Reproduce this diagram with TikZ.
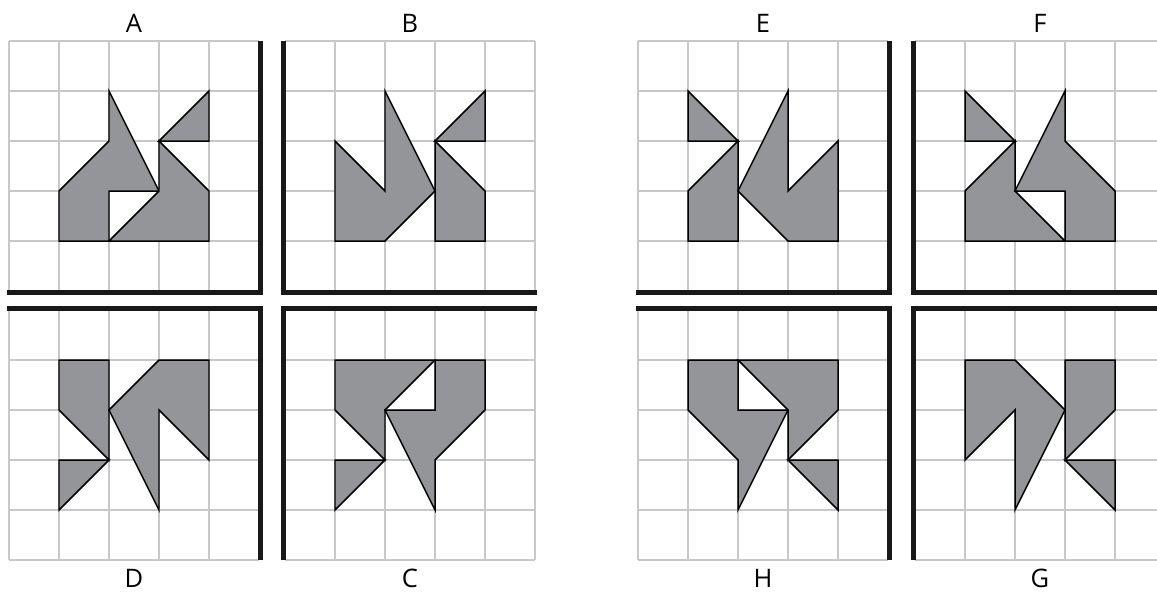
\documentclass[tikz,border=0pt]{standalone}
\usepackage{fontspec}
\setmainfont{Open Sans}
\definecolor{gridgray}{RGB}{200,200,202}
\definecolor{piecegray}{RGB}{147,149,152}

\begin{document}
\begin{tikzpicture}[x=1cm,y=1cm,font=\fontsize{14.5}{17}\selectfont,
                    gridline/.style={draw=gridgray,line width=1.1pt},
                    rim/.style={draw=black!90,line width=2.6pt,line join=miter},
                    piece/.style={fill=piecegray,draw=black,line width=0.85pt,line join=miter}]
  \useasboundingbox (0,0) rectangle (23.14,-11.88);
  \clip (0,0) rectangle (23.14,-11.88);
  % panel A
  \begin{scope}[shift={(0.18,-5.82)}]
    \draw[gridline] (0,0) grid (5,5);
    \draw[piece] (1,1)--(1,2)--(2,3)--(2,4)--(3,2)--(2,2)--(2,1)--cycle;
    \draw[piece] (2,1)--(3,2)--(3,3)--(4,2)--(4,1)--cycle;
    \draw[piece] (3,3)--(4,4)--(4,3)--cycle;
    \draw[rim] (5.03,5)--(5.03,-0.03)--(-0.04,-0.03);
    \node (labA) at (2.5,5.36) {A};
  \end{scope}
  % panel B
  \begin{scope}[shift={(5.70,-5.82)}]
    \draw[gridline] (0,0) grid (5,5);
    \draw[piece] (1,1)--(1,3)--(2,2)--(2,4)--(3,2)--(2,1)--cycle;
    \draw[piece] (3,1)--(3,3)--(4,2)--(4,1)--cycle;
    \draw[piece] (3,3)--(4,4)--(4,3)--cycle;
    \draw[rim] (-0.03,5)--(-0.03,-0.03)--(5.04,-0.03);
    \node (labB) at (2.5,5.36) {B};
  \end{scope}
  % panel D
  \begin{scope}[shift={(0.18,-11.2)}]
    \draw[gridline] (0,0) grid (5,5);
    \draw[piece] (1,4)--(2,4)--(2,2)--(1,3)--cycle;
    \draw[piece] (1,2)--(2,2)--(1,1)--cycle;
    \draw[piece] (2,3)--(3,4)--(4,4)--(4,2)--(3,3)--(3,1)--cycle;
    \draw[rim] (-0.04,5.03)--(5.03,5.03)--(5.03,0);
    \node (labD) at (2.5,-0.37) {D};
  \end{scope}
  % panel C
  \begin{scope}[shift={(5.70,-11.2)}]
    \draw[gridline] (0,0) grid (5,5);
    \draw[piece] (1,4)--(3,4)--(2,3)--(2,2)--(1,3)--cycle;
    \draw[piece] (1,2)--(2,2)--(1,1)--cycle;
    \draw[piece] (3,4)--(4,4)--(4,3)--(3,2)--(3,1)--(2,3)--(3,3)--cycle;
    \draw[rim] (5.04,5.03)--(-0.03,5.03)--(-0.03,0);
    \node (labC) at (2.5,-0.37) {C};
  \end{scope}
  % panel E
  \begin{scope}[shift={(12.76,-5.82)}]
    \draw[gridline] (0,0) grid (5,5);
    \draw[piece] (1,4)--(2,3)--(1,3)--cycle;
    \draw[piece] (1,1)--(1,2)--(2,3)--(2,1)--cycle;
    \draw[piece] (2,2)--(3,4)--(3,2)--(4,3)--(4,1)--(3,1)--cycle;
    \draw[rim] (5.03,5)--(5.03,-0.03)--(-0.04,-0.03);
    \node (labE) at (2.5,5.36) {E};
  \end{scope}
  % panel F
  \begin{scope}[shift={(18.30,-5.82)}]
    \draw[gridline] (0,0) grid (5,5);
    \draw[piece] (1,4)--(2,3)--(1,3)--cycle;
    \draw[piece] (1,1)--(1,2)--(2,3)--(2,2)--(3,1)--cycle;
    \draw[piece] (2,2)--(3,4)--(3,3)--(4,2)--(4,1)--(3,1)--(3,2)--cycle;
    \draw[rim] (-0.03,5)--(-0.03,-0.03)--(5.04,-0.03);
    \node (labF) at (2.5,5.36) {F};
  \end{scope}
  % panel H
  \begin{scope}[shift={(12.76,-11.2)}]
    \draw[gridline] (0,0) grid (5,5);
    \draw[piece] (1,4)--(2,4)--(2,3)--(3,3)--(2,1)--(2,2)--(1,3)--cycle;
    \draw[piece] (2,4)--(4,4)--(4,3)--(3,2)--(3,3)--cycle;
    \draw[piece] (3,2)--(4,2)--(4,1)--cycle;
    \draw[rim] (-0.04,5.03)--(5.03,5.03)--(5.03,0);
    \node (labH) at (2.5,-0.37) {H};
  \end{scope}
  % panel G
  \begin{scope}[shift={(18.30,-11.2)}]
    \draw[gridline] (0,0) grid (5,5);
    \draw[piece] (1,4)--(2,4)--(3,3)--(2,1)--(2,3)--(1,2)--cycle;
    \draw[piece] (3,4)--(4,4)--(4,3)--(3,2)--cycle;
    \draw[piece] (3,2)--(4,2)--(4,1)--cycle;
    \draw[rim] (5.04,5.03)--(-0.03,5.03)--(-0.03,0);
    \node (labG) at (2.5,-0.37) {G};
  \end{scope}
\end{tikzpicture}
\end{document}
